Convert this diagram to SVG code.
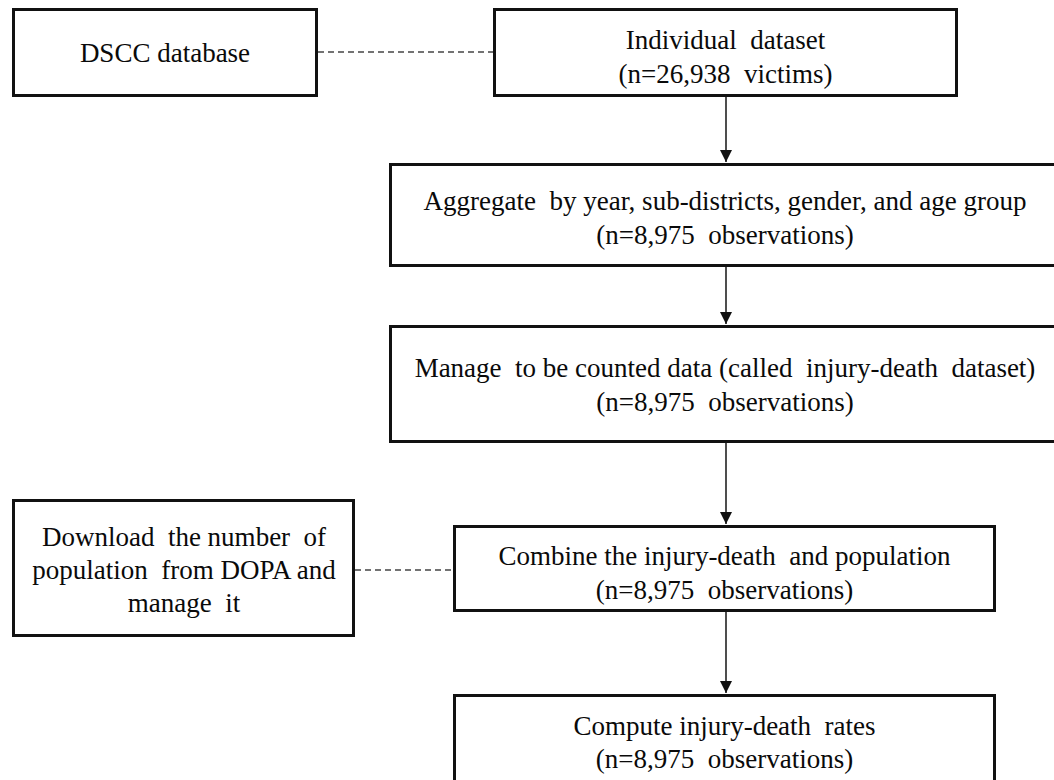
<svg xmlns="http://www.w3.org/2000/svg" width="1054" height="780" viewBox="0 0 1054 780">
  <defs>
    <style>
      .box { fill: #ffffff; stroke: #111111; stroke-width: 3; }
      .lbl { font-family: "Liberation Serif", "Times New Roman", serif; font-size: 27px; fill: #0a0a0a; text-anchor: middle; white-space: pre; }
      .arrow { fill: none; stroke: #222222; stroke-width: 1.6; marker-end: url(#ah); }
      .dash { fill: none; stroke: #444444; stroke-width: 1.5; stroke-dasharray: 6 4; }
    </style>
    <marker id="ah" markerUnits="userSpaceOnUse" markerWidth="12" markerHeight="12" viewBox="0 0 12 12" refX="12" refY="6" orient="auto">
      <path d="M0,0 L12,6 L0,12 Z" fill="#111111"/>
    </marker>
  </defs>
  <rect width="1054" height="780" fill="#ffffff"/>

  <g id="connectors">
    <line class="dash" x1="318" y1="52" x2="493" y2="52"/>
    <line class="dash" x1="355" y1="570" x2="453" y2="570"/>
    <line class="arrow" x1="726" y1="97" x2="726" y2="162"/>
    <line class="arrow" x1="726" y1="267" x2="726" y2="324"/>
    <line class="arrow" x1="726" y1="443" x2="726" y2="524"/>
    <line class="arrow" x1="726" y1="612" x2="726" y2="693"/>
  </g>

  <g id="dscc">
    <rect class="box" x="13.5" y="9.5" width="303" height="86"/>
    <text class="lbl" x="165" y="62">DSCC database</text>
  </g>

  <g id="individual">
    <rect class="box" x="494.5" y="9.5" width="462" height="86"/>
    <text class="lbl" x="725.5" y="49">Individual  dataset</text>
    <text class="lbl" x="725.5" y="83">(n=26,938  victims)</text>
  </g>

  <g id="aggregate">
    <rect class="box" x="390.5" y="164.5" width="665" height="101"/>
    <text class="lbl" x="725" y="210">Aggregate  by year, sub-districts, gender, and age group</text>
    <text class="lbl" x="725" y="244">(n=8,975  observations)</text>
  </g>

  <g id="manage">
    <rect class="box" x="390.5" y="326.5" width="665" height="115"/>
    <text class="lbl" x="725" y="377">Manage  to be counted data (called  injury-death  dataset)</text>
    <text class="lbl" x="725" y="411">(n=8,975  observations)</text>
  </g>

  <g id="download">
    <rect class="box" x="13.5" y="500.5" width="340" height="135"/>
    <text class="lbl" x="184" y="546">Download  the number  of</text>
    <text class="lbl" x="184" y="579">population  from DOPA and</text>
    <text class="lbl" x="184" y="612">manage  it</text>
  </g>

  <g id="combine">
    <rect class="box" x="454.5" y="526.5" width="540" height="84"/>
    <text class="lbl" x="724.5" y="565">Combine the injury-death  and population</text>
    <text class="lbl" x="724.5" y="599">(n=8,975  observations)</text>
  </g>

  <g id="compute">
    <rect class="box" x="454.5" y="695.5" width="540" height="100"/>
    <text class="lbl" x="724.5" y="735">Compute injury-death  rates</text>
    <text class="lbl" x="724.5" y="768">(n=8,975  observations)</text>
  </g>
</svg>
